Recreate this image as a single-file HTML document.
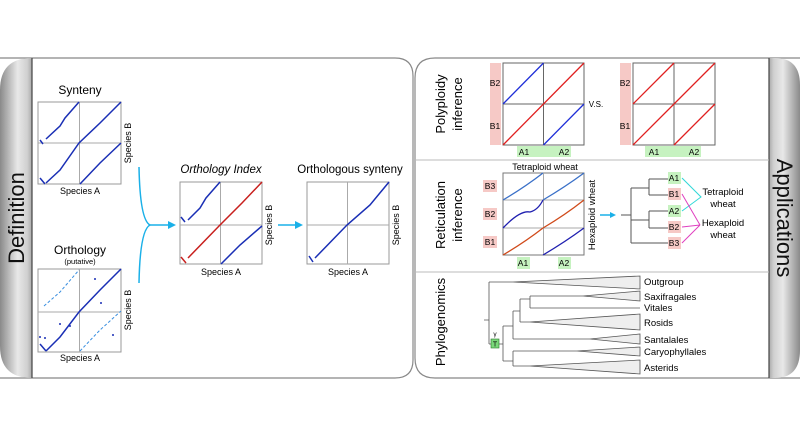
<!DOCTYPE html>
<html><head><meta charset="utf-8"><style>
html,body{margin:0;padding:0;background:#fff;width:800px;height:437px;overflow:hidden}
svg{display:block;font-family:"Liberation Sans",Arial,sans-serif}
</style></head><body>
<svg width="800" height="437" viewBox="0 0 800 437">
<defs>
<linearGradient id="gl" x1="0" x2="1"><stop offset="0" stop-color="#8a8a8a"/><stop offset="0.55" stop-color="#e8e8e8"/><stop offset="0.85" stop-color="#d0d0d0"/><stop offset="1" stop-color="#aaa"/></linearGradient>
<linearGradient id="gr" x1="0" x2="1"><stop offset="0" stop-color="#aaa"/><stop offset="0.15" stop-color="#d0d0d0"/><stop offset="0.45" stop-color="#e8e8e8"/><stop offset="1" stop-color="#8a8a8a"/></linearGradient>
</defs>
<!-- left panel -->
<path d="M0,58 L395,58 Q413,58 413,76 L413,360 Q413,378 395,378 L0,378" fill="#fff" stroke="#888" stroke-width="1.2"/>
<path d="M0,90 Q0,58 32,58 L32,378 Q0,378 0,346 Z" fill="url(#gl)"/>
<line x1="32" y1="58" x2="32" y2="378" stroke="#444" stroke-width="1.2"/>
<text transform="translate(24,218) rotate(-90)" text-anchor="middle" font-size="22" fill="#111">Definition</text>

<!-- right panel -->
<path d="M800,58 L435,58 Q415,58 415,78 L415,358 Q415,378 435,378 L800,378" fill="#fff" stroke="#888" stroke-width="1.2"/>
<path d="M769,58 L775,58 Q800,58 800,85 L800,350 Q800,378 775,378 L769,378 Z" fill="url(#gr)"/>
<line x1="769" y1="58" x2="769" y2="378" stroke="#444" stroke-width="1.2"/>
<text transform="translate(777,218) rotate(90)" text-anchor="middle" font-size="22" fill="#111">Applications</text>
<line x1="415" y1="160" x2="769" y2="160" stroke="#bbb"/>
<line x1="415" y1="272" x2="769" y2="272" stroke="#bbb"/>

<!-- Synteny -->
<text x="80" y="94" text-anchor="middle" font-size="12">Synteny</text>
<rect x="38" y="102" width="83" height="82" fill="#fff" stroke="#999"/>
<line x1="79.5" y1="102" x2="79.5" y2="184" stroke="#aaa"/><line x1="38" y1="143" x2="121" y2="143" stroke="#aaa"/>
<g stroke="#1a2fb5" stroke-width="1.5" fill="none">
<path d="M46,139 L60,126 L65,118 L79,102"/><path d="M40,140 L43,144"/>
<path d="M46,183 L60,170 L79,143 L100,123 L121,102"/><path d="M40,178 L45,184"/>
<path d="M80,184 L100,163 L121,143"/></g>
<text x="80" y="194" text-anchor="middle" font-size="9">Species A</text>
<text transform="translate(131,143) rotate(-90)" text-anchor="middle" font-size="9">Species B</text>

<!-- Orthology -->
<text x="80" y="254" text-anchor="middle" font-size="12">Orthology</text>
<text x="80" y="264" text-anchor="middle" font-size="7.5">(putative)</text>
<rect x="38" y="269" width="83" height="83" fill="#fff" stroke="#999"/>
<line x1="79.5" y1="269" x2="79.5" y2="352" stroke="#aaa"/><line x1="38" y1="312" x2="121" y2="312" stroke="#aaa"/>
<g stroke="#1a2fb5" stroke-width="1.5" fill="none">
<path d="M46,351 L60,337 L79,312 L100,290 L121,269"/><path d="M40,344 L46,351"/></g>
<g stroke="#3a8fe0" stroke-width="1" fill="none" stroke-dasharray="3 2">
<path d="M44,306 L60,292 L79,270"/><path d="M80,351 L100,330 L121,311"/></g>
<g fill="#1a2fb5"><circle cx="95" cy="279" r="1"/><circle cx="101" cy="303" r="1"/><circle cx="60" cy="324" r="1"/><circle cx="70" cy="326" r="1"/><circle cx="113" cy="335" r="1"/><circle cx="40" cy="337" r="1"/><circle cx="45" cy="338" r="1"/></g>
<text x="80" y="361" text-anchor="middle" font-size="9">Species A</text>
<text transform="translate(131,310) rotate(-90)" text-anchor="middle" font-size="9">Species B</text>

<!-- bracket -->
<path d="M139,167 Q140,220 150,225 Q140,230 139,283" fill="none" stroke="#1ab0e8" stroke-width="1.5"/>
<line x1="150" y1="225" x2="170" y2="225" stroke="#1ab0e8" stroke-width="1.5"/>
<polygon points="168,221 176,225 168,229" fill="#1ab0e8"/>

<!-- Orthology Index -->
<text x="221" y="173" text-anchor="middle" font-size="11.5" font-style="italic">Orthology Index</text>
<rect x="180" y="182" width="82" height="82" fill="#fff" stroke="#999"/>
<line x1="220.5" y1="182" x2="220.5" y2="264" stroke="#aaa"/><line x1="180" y1="225" x2="262" y2="225" stroke="#aaa"/>
<g stroke="#1a2fb5" stroke-width="1.5" fill="none">
<path d="M188,220 L200,208 L206,198 L220,182"/><path d="M181,217 L185,222"/><path d="M221,264 L240,245 L262,226"/></g>
<g stroke="#c8201e" stroke-width="1.5" fill="none"><path d="M188,258 L220,225 L242,203 L262,182"/><path d="M181,257 L186,263"/></g>
<text x="221" y="275" text-anchor="middle" font-size="9">Species A</text>
<text transform="translate(272,225) rotate(-90)" text-anchor="middle" font-size="9">Species B</text>

<line x1="278" y1="225" x2="297" y2="225" stroke="#1ab0e8" stroke-width="1.5"/>
<polygon points="295,221 303,225 295,229" fill="#1ab0e8"/>

<!-- Orthologous synteny -->
<text x="350" y="173" text-anchor="middle" font-size="11.5">Orthologous synteny</text>
<rect x="307" y="182" width="82" height="82" fill="#fff" stroke="#999"/>
<line x1="347.5" y1="182" x2="347.5" y2="264" stroke="#aaa"/><line x1="307" y1="225" x2="389" y2="225" stroke="#aaa"/>
<g stroke="#1a2fb5" stroke-width="1.5" fill="none"><path d="M315,258 L347,225 L370,205 L389,182"/><path d="M309,256 L313,262"/></g>
<text x="348" y="275" text-anchor="middle" font-size="9">Species A</text>
<text transform="translate(399,225) rotate(-90)" text-anchor="middle" font-size="9">Species B</text>

<!-- Polyploidy -->
<text transform="translate(445,104) rotate(-90)" text-anchor="middle" font-size="13">Polyploidy</text>
<text transform="translate(462,104) rotate(-90)" text-anchor="middle" font-size="13">inference</text>
<rect x="490" y="63" width="11" height="82" fill="#f6c9c6"/>
<rect x="517" y="146" width="54" height="11" fill="#c6f2c0"/>
<text x="495" y="86" text-anchor="middle" font-size="8.5">B2</text><text x="495" y="129" text-anchor="middle" font-size="8.5">B1</text>
<text x="524" y="155" text-anchor="middle" font-size="8.5">A1</text><text x="564" y="155" text-anchor="middle" font-size="8.5">A2</text>
<rect x="503" y="63" width="81" height="82" fill="#fff" stroke="#666"/>
<line x1="543.5" y1="63" x2="543.5" y2="145" stroke="#666"/><line x1="503" y1="104" x2="584" y2="104" stroke="#666"/>
<line x1="503" y1="104" x2="543.5" y2="63" stroke="#1f2fd8" stroke-width="1.3"/>
<line x1="543.5" y1="145" x2="584" y2="104" stroke="#1f2fd8" stroke-width="1.3"/>
<line x1="503" y1="145" x2="584" y2="63" stroke="#e02020" stroke-width="1.3"/>
<text x="596" y="107" text-anchor="middle" font-size="8">V.S.</text>
<rect x="620" y="63" width="11" height="82" fill="#f6c9c6"/>
<rect x="645" y="146" width="56" height="11" fill="#c6f2c0"/>
<text x="625" y="86" text-anchor="middle" font-size="8.5">B2</text><text x="625" y="129" text-anchor="middle" font-size="8.5">B1</text>
<text x="654" y="155" text-anchor="middle" font-size="8.5">A1</text><text x="694" y="155" text-anchor="middle" font-size="8.5">A2</text>
<rect x="633" y="63" width="82" height="82" fill="#fff" stroke="#666"/>
<line x1="674" y1="63" x2="674" y2="145" stroke="#666"/><line x1="633" y1="104" x2="715" y2="104" stroke="#666"/>
<g stroke="#e02020" stroke-width="1.3"><line x1="633" y1="104" x2="674" y2="63"/><line x1="674" y1="145" x2="715" y2="104"/><line x1="633" y1="145" x2="715" y2="63"/></g>

<!-- Reticulation -->
<text transform="translate(445,215) rotate(-90)" text-anchor="middle" font-size="13">Reticulation</text>
<text transform="translate(462,215) rotate(-90)" text-anchor="middle" font-size="13">inference</text>
<text x="545" y="170" text-anchor="middle" font-size="9">Tetraploid wheat</text>
<rect x="483" y="180" width="14" height="12" fill="#f6c9c6"/><rect x="483" y="208" width="14" height="12" fill="#f6c9c6"/><rect x="483" y="236" width="14" height="12" fill="#f6c9c6"/>
<text x="490" y="189" text-anchor="middle" font-size="8.5">B3</text><text x="490" y="217" text-anchor="middle" font-size="8.5">B2</text><text x="490" y="245" text-anchor="middle" font-size="8.5">B1</text>
<rect x="517" y="257" width="13" height="12" fill="#c6f2c0"/><rect x="558" y="257" width="13" height="12" fill="#c6f2c0"/>
<text x="523" y="266" text-anchor="middle" font-size="8.5">A1</text><text x="564" y="266" text-anchor="middle" font-size="8.5">A2</text>
<rect x="503" y="173" width="81" height="82" fill="#fff" stroke="#777"/>
<line x1="543.5" y1="173" x2="543.5" y2="255" stroke="#aaa"/><line x1="503" y1="200" x2="584" y2="200" stroke="#aaa"/><line x1="503" y1="228" x2="584" y2="228" stroke="#aaa"/>
<g stroke-width="1.3" fill="none">
<path d="M503,200 Q525,187 543,173" stroke="#3a70c8"/><path d="M543,200 Q565,187 584,173" stroke="#3a70c8"/>
<path d="M503,228 Q520,210 530,212 Q538,210 543,200" stroke="#2020b0"/><path d="M543,228 Q565,215 584,200" stroke="#d04a1a"/>
<path d="M503,255 Q525,242 543,228" stroke="#d04a1a"/><path d="M543,255 Q565,242 584,228" stroke="#2020b0"/></g>
<text transform="translate(595,215) rotate(-90)" text-anchor="middle" font-size="9.5">Hexaploid wheat</text>
<line x1="600" y1="215" x2="611" y2="215" stroke="#1ab0e8" stroke-width="1.5"/><polygon points="610,212 616,215 610,218" fill="#1ab0e8"/>
<g stroke="#555" fill="none" stroke-width="1">
<path d="M621,215 L631,215 M631,188 L631,243 M631,188 L649,188 M649,179 L649,195 M649,179 L668,179 M649,195 L668,195 M631,220 L649,220 M649,211 L649,228 M649,211 L668,211 M649,228 L668,228 M631,243 L668,243"/></g>
<rect x="668" y="172" width="13" height="12" fill="#c6f2c0"/><rect x="668" y="188" width="13" height="12" fill="#f6c9c6"/><rect x="668" y="205" width="13" height="12" fill="#c6f2c0"/><rect x="668" y="221" width="13" height="12" fill="#f6c9c6"/><rect x="668" y="237" width="13" height="12" fill="#f6c9c6"/>
<g font-size="8.5" text-anchor="middle"><text x="674" y="181">A1</text><text x="674" y="197">B1</text><text x="674" y="214">A2</text><text x="674" y="230">B2</text><text x="674" y="246">B3</text></g>
<path d="M682,178 L701,197 L682,211" stroke="#30d8d8" fill="none"/>
<path d="M682,194 L700,225 M682,227 L700,225 M682,243 L700,225" stroke="#e040c0" fill="none"/>
<g font-size="9.5" text-anchor="middle"><text x="723" y="195">Tetraploid</text><text x="723" y="207">wheat</text><text x="723" y="226">Hexaploid</text><text x="723" y="238">wheat</text></g>

<!-- Phylogenomics -->
<text transform="translate(445,322) rotate(-90)" text-anchor="middle" font-size="13">Phylogenomics</text>
<g fill="#eee" stroke="#555" stroke-width="0.8">
<polygon points="513,282 640,276 640,289"/><polygon points="583,296 640,291 640,301"/>
<polygon points="530,322 640,314 640,330"/><polygon points="590,339 640,334 640,344"/>
<polygon points="577,351 640,347 640,356"/><polygon points="530,366 640,360 640,374"/></g>
<g stroke="#555" fill="none" stroke-width="0.8">
<path d="M484,320 L489,320 M489,282 L489,344 M489,282 L513,282 M489,344 L503,344 M503,326 L503,361 M503,326 L513,326 M513,311 L513,339 M513,339 L590,339 M513,311 L520,311 M520,299 L520,322 M520,322 L530,322 M520,299 L530,299 M530,296 L530,308 M530,296 L583,296 M530,308 L640,308 M503,361 L513,361 M513,351 L513,366 M513,351 L577,351 M513,366 L530,366"/></g>
<rect x="491" y="339" width="8" height="9" fill="#7ad87a" stroke="#2a7a2a" stroke-width="0.6"/>
<text x="495" y="346.5" text-anchor="middle" font-size="7">T</text>
<text x="495" y="336" text-anchor="middle" font-size="6.5">γ</text>
<g font-size="9.5"><text x="644" y="285">Outgroup</text><text x="644" y="300">Saxifragales</text><text x="644" y="311">Vitales</text><text x="644" y="326">Rosids</text><text x="644" y="343">Santalales</text><text x="644" y="355">Caryophyllales</text><text x="644" y="371">Asterids</text></g>
</svg>
</body></html>
